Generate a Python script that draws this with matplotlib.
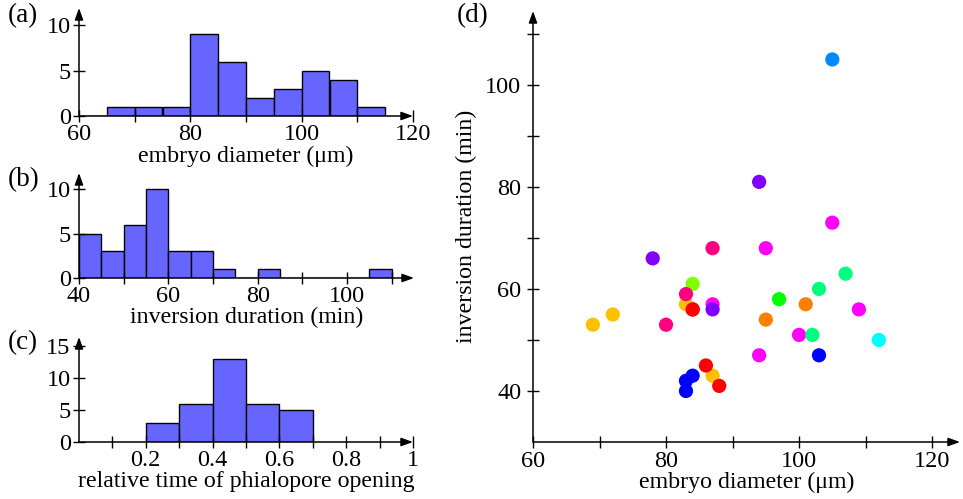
import matplotlib
matplotlib.use("Agg")
import matplotlib.pyplot as plt
import numpy as np

plt.rcParams['font.family'] = ['Liberation Serif', 'DejaVu Serif']
plt.rcParams['mathtext.fontset'] = 'stix'

# ---- data ----
diam_bins = [60, 65, 70, 75, 80, 85, 90, 95, 100, 105, 110]
diam_counts = [0, 1, 1, 1, 9, 6, 2, 3, 5, 4, 1]

dur_bins = [40, 45, 50, 55, 60, 65, 70, 75, 80, 85, 90, 95, 100, 105]
dur_counts = [5, 3, 6, 10, 3, 3, 1, 0, 1, 0, 0, 0, 0, 1]

rel_bins = [0.2, 0.3, 0.4, 0.5, 0.6]
rel_counts = [3, 6, 13, 6, 5]

sc_x = [84, 105, 94, 105, 87, 95, 78, 84, 83, 83, 87, 87, 84, 80, 69, 72,
        97, 101, 103, 107, 109, 95, 100, 102, 112, 94, 103, 87, 86, 88, 84, 83, 83]
sc_y = [56, 105, 81, 73, 68, 68, 66, 61, 57, 59, 57, 56, 56, 53, 53, 55,
        58, 57, 60, 63, 56, 54, 51, 51, 50, 47, 47, 43, 45, 41, 43, 42, 40]
sc_c = ['#FF0000', '#0088FF', '#8000FF', '#FF00FF', '#FF0080', '#FF00FF', '#8000FF', '#80FF00',
        '#FFC000', '#FF0080', '#FF00FF', '#8000FF', '#FF0000', '#FF0080', '#FFC000', '#FFC000',
        '#00FF00', '#FF8000', '#00FF80', '#00FF80', '#FF00FF', '#FF8000', '#FF00FF', '#00FF80',
        '#00FFFF', '#FF00FF', '#0000FF', '#FFC000', '#FF0000', '#FF0000', '#0000FF', '#0000FF', '#0000FF']

W, H = 963, 499
fig = plt.figure(figsize=(W / 100, H / 100), dpi=100)
FS = 17.5
LFS = 17.2
PFS = 19.5
HIST_C = '#6666FF'


def add_axes(l, r, b, t):
    return fig.add_axes([l / W, 1 - b / H, (r - l) / W, (b - t) / H])


def style(ax):
    for s in ax.spines.values():
        s.set_visible(False)
    ax.tick_params(which='both', direction='inout', length=8, width=1.0,
                   labelsize=FS, pad=2, colors='black')
    ap = dict(arrowstyle='-|>,head_length=0.5,head_width=0.18', color='black',
              lw=1.1, shrinkA=0, shrinkB=0, mutation_scale=14)
    ax.annotate('', xy=(1, 0), xytext=(0, 0), xycoords='axes fraction',
                textcoords='axes fraction', arrowprops=ap, annotation_clip=False)
    ax.annotate('', xy=(0, 1), xytext=(0, 0), xycoords='axes fraction',
                textcoords='axes fraction', arrowprops=ap, annotation_clip=False)


# (a)
axa = add_axes(79, 413, 116, 8)
axa.bar(diam_bins, diam_counts, width=5, align='edge', color=HIST_C,
        edgecolor='black', linewidth=1.0)
axa.set_xlim(60, 120)
axa.set_ylim(0, 11.9)
axa.set_xticks([60, 80, 100, 120])
axa.set_xticks([70, 90, 110], minor=True)
axa.set_yticks([0, 5, 10])
style(axa)
axa.set_xlabel('embryo diameter (μm)', fontsize=LFS, labelpad=0)
fig.text(8 / W, 1 - 16 / H, '(a)', fontsize=PFS, va='center', ha='left')

# (b)
axb = add_axes(79, 414, 278, 173)
axb.bar(dur_bins, dur_counts, width=5, align='edge', color=HIST_C,
        edgecolor='black', linewidth=1.0)
axb.set_xlim(40, 115)
axb.set_ylim(0, 11.8)
axb.set_xticks([40, 60, 80, 100])
axb.set_xticks([50, 70, 90, 110], minor=True)
axb.set_yticks([0, 5, 10])
style(axb)
axb.set_xlabel('inversion duration (min)', fontsize=LFS, labelpad=0)
fig.text(8 / W, 1 - 180 / H, '(b)', fontsize=PFS, va='center', ha='left')

# (c)
axc = add_axes(79, 413, 442, 337)
axc.bar(rel_bins, rel_counts, width=0.1, align='edge', color=HIST_C,
        edgecolor='black', linewidth=1.0)
axc.set_xlim(0, 1)
axc.set_ylim(0, 16.4)
axc.set_xticks([0.2, 0.4, 0.6, 0.8, 1.0])
axc.set_xticklabels(['0.2', '0.4', '0.6', '0.8', '1'])
axc.set_xticks([0.1, 0.3, 0.5, 0.7, 0.9], minor=True)
axc.set_yticks([0, 5, 10, 15])
style(axc)
axc.set_xlabel('relative time of phialopore opening', fontsize=LFS, labelpad=0)
fig.text(8 / W, 1 - 343 / H, '(c)', fontsize=PFS, va='center', ha='left')

# (d)
axd = add_axes(533, 960, 442, 11)
axd.scatter(sc_x, sc_y, s=105, c=sc_c, linewidths=0, zorder=3)
axd.set_xlim(60, 124.2)
axd.set_ylim(30, 114.5)
axd.set_xticks([60, 80, 100, 120])
axd.set_xticks([70, 90, 110], minor=True)
axd.set_yticks([40, 60, 80, 100])
axd.set_yticks([50, 70, 90, 110], minor=True)
style(axd)
axd.tick_params(which='both', length=9)
axd.tick_params(axis='y', pad=4)
axd.set_xlabel('embryo diameter (μm)', fontsize=LFS, labelpad=0)
axd.set_ylabel('inversion duration (min)', fontsize=LFS, labelpad=6)
fig.text(457 / W, 1 - 16 / H, '(d)', fontsize=PFS, va='center', ha='left')

fig.savefig('out.png', dpi=100)
